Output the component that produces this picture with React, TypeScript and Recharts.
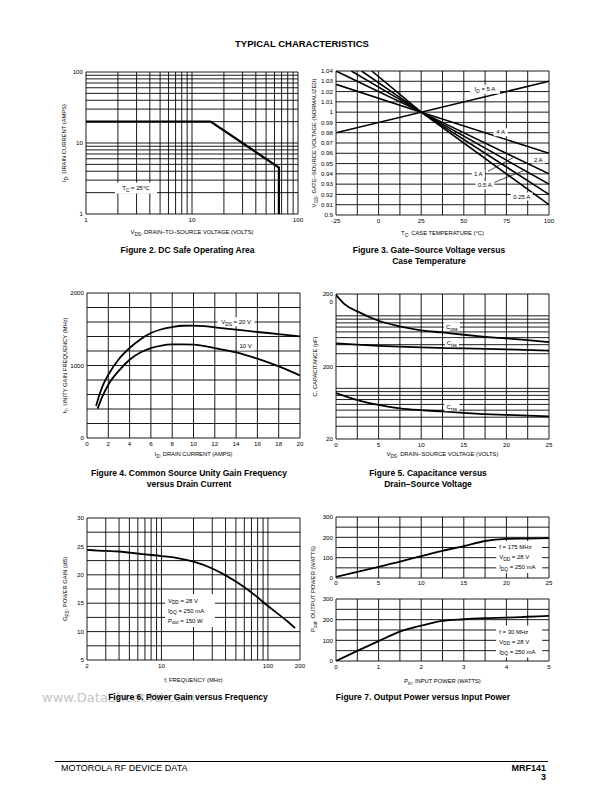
import React from 'react';
import { LineChart, Line, XAxis, YAxis, ReferenceLine, ReferenceDot } from 'recharts';

type Pt = [number, number];
type Part = [string, boolean];
type Rect = { x0: number; y0: number; x1: number; y1: number };

const FONT = '"Liberation Sans", Arial, Helvetica, sans-serif';

// ---------- Figure 2: DC safe operating area ----------
const fig2Ticks = [1, 10, 100];
const fig2Grid = [1, 2, 3, 4, 5, 6, 7, 8, 9, 10, 20, 30, 40, 50, 60, 70, 80, 90, 100];
const fig2Soa: Pt[] = [[1, 20], [15, 20], [66, 4.5], [66, 1]];

// ---------- Figure 3: gate-source voltage vs case temperature ----------
const fig3XTicks = [-25, 0, 25, 50, 75, 100];
const fig3XGrid = [-25, -12.5, 0, 12.5, 25, 37.5, 50, 62.5, 75, 87.5, 100];
const fig3YTicks = [0.9, 0.91, 0.92, 0.93, 0.94, 0.95, 0.96, 0.97, 0.98, 0.99, 1, 1.01, 1.02, 1.03, 1.04];
const fig3Id5A: Pt[] = [[-25, 0.98], [100, 1.03]];
const fig3Id4A: Pt[] = [[-25, 1.027], [25, 1], [100, 0.96]];
const fig3Id2A: Pt[] = [[-25, 1.04], [25, 1], [100, 0.94]];
const fig3Id1A: Pt[] = [[-16, 1.04], [25, 1], [100, 0.93]];
const fig3Id05A: Pt[] = [[-10, 1.04], [25, 1], [100, 0.92]];
const fig3Id025A: Pt[] = [[-4, 1.04], [25, 1], [100, 0.91]];

// ---------- Figure 4: unity gain frequency vs drain current ----------
const fig4XTicks = [0, 2, 4, 6, 8, 10, 12, 14, 16, 18, 20];
const fig4YTicks = [0, 1000, 2000];
const fig4YGrid = [0, 200, 400, 600, 800, 1000, 1200, 1400, 1600, 1800, 2000];
const fig4Vds20: Pt[] = [[0.85, 440], [1.2, 610], [1.5, 730], [2, 873], [3, 1090], [4, 1241], [5, 1360], [6, 1448], [7, 1500], [8, 1530], [9, 1548], [10, 1550], [11, 1542], [12, 1526], [14, 1494], [16, 1462], [18, 1434], [20, 1402]];
const fig4Vds10: Pt[] = [[1, 405], [1.5, 590], [2, 735], [3, 930], [4, 1080], [5, 1180], [6, 1241], [7, 1275], [8, 1290], [9, 1292], [10, 1287], [12, 1241], [14, 1182], [16, 1094], [18, 988], [20, 864]];

// ---------- Figure 5: capacitance vs drain-source voltage ----------
const fig5XTicks = [0, 5, 10, 15, 20, 25];
const fig5XGrid = [0, 2.5, 5, 7.5, 10, 12.5, 15, 17.5, 20, 22.5, 25];
const fig5YTicks = [20, 200, 2000];
const fig5YGrid = [20, 30, 40, 50, 60, 70, 80, 90, 100, 200, 300, 400, 500, 600, 700, 800, 900, 1000, 2000];
const fig5Coss: Pt[] = [[0, 1950], [1, 1450], [2.5, 1151], [5, 855], [7.5, 714], [10, 630], [12.5, 590], [15, 548], [17.5, 514], [20, 488], [22.5, 462], [25, 434]];
const fig5Ciss: Pt[] = [[0, 416], [5, 386], [10, 366], [15, 355], [20, 344], [25, 330]];
const fig5Crss: Pt[] = [[0, 86], [2.5, 69], [5, 59], [7.5, 53], [10, 50], [12.5, 48], [15, 46], [17.5, 44], [20, 43], [25, 41]];

// ---------- Figure 6: power gain vs frequency ----------
const fig6XTicks = [2, 10, 100, 200];
const fig6XGrid = [2, 3, 4, 5, 6, 7, 8, 9, 10, 20, 30, 40, 50, 60, 70, 80, 90, 100, 200];
const fig6YTicks = [5, 10, 15, 20, 25, 30];
const fig6YGrid = [5, 7.5, 10, 12.5, 15, 17.5, 20, 22.5, 25, 27.5, 30];
const fig6Gain: Pt[] = [[2, 24.4], [3, 24.2], [4, 24.1], [5, 23.9], [7, 23.6], [10, 23.3], [15, 22.85], [20, 22.3], [30, 21.1], [40, 19.9], [50, 18.8], [70, 16.9], [100, 14.5], [150, 11.9], [180, 10.6]];

// ---------- Figure 7: output power vs input power ----------
const fig7YTicks = [0, 100, 200, 300];
const fig7YGrid = [0, 50, 100, 150, 200, 250, 300];
const fig7aXTicks = [0, 5, 10, 15, 20, 25];
const fig7aXGrid = [0, 2.5, 5, 7.5, 10, 12.5, 15, 17.5, 20, 22.5, 25];
const fig7aPout: Pt[] = [[0, 5], [2.5, 30], [5, 55], [7.5, 80], [10, 108], [12.5, 134], [15, 157], [17.5, 182], [20, 192], [22.5, 194], [25, 196]];
const fig7bXTicks = [0, 1, 2, 3, 4, 5];
const fig7bXGrid = [0, 0.5, 1, 1.5, 2, 2.5, 3, 3.5, 4, 4.5, 5];
const fig7bPout: Pt[] = [[0, 0], [0.5, 49], [1, 96], [1.5, 142], [2, 171], [2.5, 194], [3, 202], [3.5, 207], [4, 210], [4.5, 214], [5, 218]];

// ---------- layout ----------
const rect2: Rect = { x0: 86, y0: 72, x1: 298, y1: 214 };
const rect3: Rect = { x0: 336, y0: 71, x1: 549, y1: 215 };
const rect4: Rect = { x0: 87, y0: 293, x1: 300, y1: 438 };
const rect5: Rect = { x0: 336, y0: 294, x1: 549, y1: 439 };
const rect6: Rect = { x0: 87, y0: 518, x1: 300, y1: 660 };
const rect7a: Rect = { x0: 336, y0: 517, x1: 549, y1: 578 };
const rect7b: Rect = { x0: 336, y0: 599, x1: 549, y1: 661 };

const ML = 26, YW = 20, MR = 12, MT = 10, XH = 12, MB = 14;

function frame(r: Rect, mb = MB) {
  return {
    pos: { position: 'absolute' as const, left: r.x0 - ML - YW, top: r.y0 - MT },
    width: ML + YW + (r.x1 - r.x0) + MR,
    height: MT + (r.y1 - r.y0) + XH + mb,
    margin: { top: MT, right: MR, bottom: mb, left: ML },
  };
}

const toData = (pts: Pt[]) => pts.map(([x, y]) => ({ x, y }));

function renderParts(parts: Part[], fs: number) {
  let shifted = false;
  return parts.map(([t, sub], i) => {
    let dy: number | undefined;
    if (sub && !shifted) { dy = fs * 0.3; shifted = true; }
    else if (!sub && shifted) { dy = -fs * 0.3; shifted = false; }
    return (
      <tspan key={i} dy={dy} fontSize={sub ? fs * 0.8 : fs}>{t}</tspan>
    );
  });
}

const TITLE_FS = 5.8;
const tickStyle = { fontSize: 6.2, fill: '#000', fontFamily: FONT };

const xTitle = (parts: Part[], off: number) => (props: any) => {
  const vb = props && props.viewBox;
  if (!vb) return null;
  const cx = vb.x + vb.width / 2;
  const cy = vb.y + off;
  return (
    <text x={cx} y={cy} dy="0.35em" textAnchor="middle" fontSize={TITLE_FS} fontFamily={FONT} fill="#000">
      {renderParts(parts, TITLE_FS)}
    </text>
  );
};

const yTitle = (parts: Part[], off: number, shift = 0) => (props: any) => {
  const vb = props && props.viewBox;
  if (!vb) return null;
  const cx = vb.x + vb.width - off;
  const cy = vb.y + vb.height / 2 + shift;
  return (
    <text x={cx} y={cy} dy="0.35em" textAnchor="middle" transform={`rotate(-90 ${cx} ${cy})`} fontSize={TITLE_FS} fontFamily={FONT} fill="#000">
      {renderParts(parts, TITLE_FS)}
    </text>
  );
};

type Anno = { lines: Part[][]; w: number; h: number; align?: 'middle' | 'start'; fs?: number; lh?: number };
function annoShape(a: Anno) {
  return (p: any) => {
    const cx = p.cx, cy = p.cy;
    const fs = a.fs ?? 6, lh = a.lh ?? 10;
    const n = a.lines.length;
    const start = a.align === 'start';
    const tx = start ? cx - a.w / 2 + 3 : cx;
    return (
      <g>
        <rect x={cx - a.w / 2} y={cy - a.h / 2} width={a.w} height={a.h} fill="#fff" />
        {a.lines.map((ln, i) => (
          <text key={i} x={tx} y={cy + (i - (n - 1) / 2) * lh} dy="0.35em" textAnchor={start ? 'start' : 'middle'} fontSize={fs} fontFamily={FONT} fill="#000">
            {renderParts(ln, fs)}
          </text>
        ))}
      </g>
    );
  };
}

function gridLines(xs: number[], ys: number[], key: string) {
  return [
    ...xs.map((v) => <ReferenceLine key={`${key}x${v}`} x={v} stroke="#000" strokeWidth={0.9} ifOverflow="visible" />),
    ...ys.map((v) => <ReferenceLine key={`${key}y${v}`} y={v} stroke="#000" strokeWidth={0.9} ifOverflow="visible" />),
  ];
}

const xCommon = {
  dataKey: 'x', type: 'number' as const, allowDataOverflow: true, axisLine: false, tickLine: false,
  tickSize: 0, tickMargin: 4, height: XH, interval: 0 as const, tick: tickStyle,
};
const yCommon = {
  type: 'number' as const, allowDataOverflow: true, axisLine: false, tickLine: false,
  tickSize: 0, tickMargin: 3, width: YW, interval: 0 as const, tick: tickStyle,
};
const lineCommon = { dataKey: 'y', stroke: '#000', dot: false, isAnimationActive: false, activeDot: false };

function Fig2() {
  const f = frame(rect2, 16);
  return (
    <div style={f.pos}>
      <LineChart width={f.width} height={f.height} margin={f.margin}>
        <XAxis {...xCommon} scale="log" domain={[1, 100]} ticks={fig2Ticks}
          label={xTitle([['V', false], ['DS', true], [', DRAIN\u2013TO\u2013SOURCE VOLTAGE (VOLTS)', false]], 18)} />
        <YAxis {...yCommon} scale="log" domain={[1, 100]} ticks={fig2Ticks}
          label={yTitle([['I', false], ['D', true], [', DRAIN CURRENT (AMPS)', false]], 22)} />
        {gridLines(fig2Grid, fig2Grid, 'g2')}
        <Line {...lineCommon} data={toData(fig2Soa)} type="linear" strokeWidth={2.2} />
        <ReferenceDot x={2.96} y={2.32} r={2} ifOverflow="visible"
          shape={annoShape({ lines: [[['T', false], ['C', true], [' = 25\u00B0C', false]]], w: 42, h: 11 })} />
      </LineChart>
    </div>
  );
}

function Fig3() {
  const f = frame(rect3, 16);
  const lw = 1.6;
  return (
    <div style={f.pos}>
      <LineChart width={f.width} height={f.height} margin={f.margin}>
        <XAxis {...xCommon} domain={[-25, 100]} ticks={fig3XTicks}
          label={xTitle([['T', false], ['C', true], [', CASE TEMPERATURE (\u00B0C)', false]], 18)} />
        <YAxis {...yCommon} domain={[0.9, 1.04]} ticks={fig3YTicks}
          tickFormatter={(v: number) => String(Math.round(v * 100) / 100)}
          label={yTitle([['V', false], ['GS', true], [', GATE\u2013SOURCE VOLTAGE (NORMALIZED)', false]], 22)} />
        {gridLines(fig3XGrid, fig3YTicks, 'g3')}
        <Line {...lineCommon} data={toData(fig3Id5A)} type="linear" strokeWidth={lw} />
        <Line {...lineCommon} data={toData(fig3Id4A)} type="linear" strokeWidth={lw} />
        <Line {...lineCommon} data={toData(fig3Id2A)} type="linear" strokeWidth={lw} />
        <Line {...lineCommon} data={toData(fig3Id1A)} type="linear" strokeWidth={lw} />
        <Line {...lineCommon} data={toData(fig3Id05A)} type="linear" strokeWidth={lw} />
        <Line {...lineCommon} data={toData(fig3Id025A)} type="linear" strokeWidth={lw} />
        <ReferenceLine segment={[{ x: 64.2, y: 0.9425 }, { x: 78.9, y: 0.9557 }]} stroke="#000" strokeWidth={0.7} ifOverflow="visible" />
        <ReferenceLine segment={[{ x: 65.4, y: 0.930 }, { x: 85.9, y: 0.9437 }]} stroke="#000" strokeWidth={0.7} ifOverflow="visible" />
        <ReferenceDot x={62.4} y={1.0222} r={2} ifOverflow="visible"
          shape={annoShape({ lines: [[['I', false], ['D', true], [' = 5 A', false]]], w: 30, h: 9 })} />
        <ReferenceDot x={71.6} y={0.9804} r={2} ifOverflow="visible" shape={annoShape({ lines: [[['4 A', false]]], w: 14, h: 8 })} />
        <ReferenceDot x={93.7} y={0.954} r={2} ifOverflow="visible" shape={annoShape({ lines: [[['2 A', false]]], w: 14, h: 8 })} />
        <ReferenceDot x={58.5} y={0.94} r={2} ifOverflow="visible" shape={annoShape({ lines: [[['1 A', false]]], w: 13, h: 8 })} />
        <ReferenceDot x={62.4} y={0.929} r={2} ifOverflow="visible" shape={annoShape({ lines: [[['0.5 A', false]]], w: 19, h: 8 })} />
        <ReferenceDot x={84} y={0.918} r={2} ifOverflow="visible" shape={annoShape({ lines: [[['0.25 A', false]]], w: 22, h: 8 })} />
      </LineChart>
    </div>
  );
}

function Fig4() {
  const f = frame(rect4);
  return (
    <div style={f.pos}>
      <LineChart width={f.width} height={f.height} margin={f.margin}>
        <XAxis {...xCommon} domain={[0, 20]} ticks={fig4XTicks}
          label={xTitle([['I', false], ['D', true], [', DRAIN CURRENT (AMPS)', false]], 16)} />
        <YAxis {...yCommon} domain={[0, 2000]} ticks={fig4YTicks}
          label={yTitle([['f', false], ['T', true], [', UNITY GAIN FREQUENCY (MHz)', false]], 22)} />
        {gridLines(fig4XTicks, fig4YGrid, 'g4')}
        <Line {...lineCommon} data={toData(fig4Vds20)} type="monotone" strokeWidth={1.8} />
        <Line {...lineCommon} data={toData(fig4Vds10)} type="monotone" strokeWidth={1.8} />
        <ReferenceDot x={14} y={1604} r={2} ifOverflow="visible"
          shape={annoShape({ lines: [[['V', false], ['DS', true], [' = 20 V', false]]], w: 37, h: 9 })} />
        <ReferenceDot x={14.9} y={1269} r={2} ifOverflow="visible"
          shape={annoShape({ lines: [[['10 V', false]]], w: 16, h: 9 })} />
      </LineChart>
    </div>
  );
}

const fig5YTick = (p: any) => {
  const { x, y, payload } = p;
  if (payload.value === 2000) {
    return (
      <text x={x} y={y} textAnchor="end" fontSize={6.2} fontFamily={FONT} fill="#000">
        <tspan x={x} dy="0.35em">200</tspan>
        <tspan x={x} dy="1.25em">0</tspan>
      </text>
    );
  }
  return (
    <text x={x} y={y} dy="0.35em" textAnchor="end" fontSize={6.2} fontFamily={FONT} fill="#000">{payload.value}</text>
  );
};

function Fig5() {
  const f = frame(rect5);
  return (
    <div style={f.pos}>
      <LineChart width={f.width} height={f.height} margin={f.margin}>
        <XAxis {...xCommon} domain={[0, 25]} ticks={fig5XTicks}
          label={xTitle([['V', false], ['DS', true], [', DRAIN\u2013SOURCE VOLTAGE (VOLTS)', false]], 15)} />
        <YAxis {...yCommon} scale="log" domain={[20, 2000]} ticks={fig5YTicks} tick={fig5YTick}
          label={yTitle([['C, CAPACITANCE (pF)', false]], 21)} />
        {gridLines(fig5XGrid, fig5YGrid, 'g5')}
        <Line {...lineCommon} data={toData(fig5Coss)} type="monotone" strokeWidth={1.8} />
        <Line {...lineCommon} data={toData(fig5Ciss)} type="monotone" strokeWidth={1.8} />
        <Line {...lineCommon} data={toData(fig5Crss)} type="monotone" strokeWidth={1.8} />
        <ReferenceDot x={13.6} y={708} r={2} ifOverflow="visible"
          shape={annoShape({ lines: [[['C', false], ['oss', true]]], w: 16, h: 9 })} />
        <ReferenceDot x={13.6} y={426} r={2} ifOverflow="visible"
          shape={annoShape({ lines: [[['C', false], ['iss', true]]], w: 14, h: 9 })} />
        <ReferenceDot x={13.6} y={55.8} r={2} ifOverflow="visible"
          shape={annoShape({ lines: [[['C', false], ['rss', true]]], w: 15, h: 9 })} />
      </LineChart>
    </div>
  );
}

function Fig6() {
  const f = frame(rect6, 18);
  return (
    <div style={f.pos}>
      <LineChart width={f.width} height={f.height} margin={f.margin}>
        <XAxis {...xCommon} scale="log" domain={[2, 200]} ticks={fig6XTicks}
          label={xTitle([['f, FREQUENCY (MHz)', false]], 20)} />
        <YAxis {...yCommon} domain={[5, 30]} ticks={fig6YTicks}
          label={yTitle([['G', false], ['PS', true], [', POWER GAIN (dB)', false]], 22)} />
        {gridLines(fig6XGrid, fig6YGrid, 'g6')}
        <Line {...lineCommon} data={toData(fig6Gain)} type="monotone" strokeWidth={1.8} />
        <ReferenceDot x={18.5} y={13.7} r={2} ifOverflow="visible"
          shape={annoShape({
            align: 'start', w: 50, h: 33, lh: 10,
            lines: [
              [['V', false], ['DD', true], [' = 28 V', false]],
              [['I', false], ['DQ', true], [' = 250 mA', false]],
              [['P', false], ['out', true], [' = 150 W', false]],
            ],
          })} />
      </LineChart>
    </div>
  );
}

function Fig7a() {
  const f = frame(rect7a, 70);
  return (
    <div style={f.pos}>
      <LineChart width={f.width} height={f.height} margin={f.margin}>
        <XAxis {...xCommon} tickMargin={3} domain={[0, 25]} ticks={fig7aXTicks} />
        <YAxis {...yCommon} domain={[0, 300]} ticks={fig7YTicks}
          label={yTitle([['P', false], ['out', true], [', OUTPUT POWER (WATTS)', false]], 23, 41.5)} />
        {gridLines(fig7aXGrid, fig7YGrid, 'g7a')}
        <Line {...lineCommon} data={toData(fig7aPout)} type="monotone" strokeWidth={1.8} />
        <ReferenceDot x={21.5} y={103} r={2} ifOverflow="visible"
          shape={annoShape({
            align: 'start', w: 46, h: 32, lh: 10,
            lines: [
              [['f = 175 MHz', false]],
              [['V', false], ['DD', true], [' = 28 V', false]],
              [['I', false], ['DQ', true], [' = 250 mA', false]],
            ],
          })} />
      </LineChart>
    </div>
  );
}

function Fig7b() {
  const f = frame(rect7b, 18);
  return (
    <div style={f.pos}>
      <LineChart width={f.width} height={f.height} margin={f.margin}>
        <XAxis {...xCommon} domain={[0, 5]} ticks={fig7bXTicks}
          label={xTitle([['P', false], ['in', true], [', INPUT POWER (WATTS)', false]], 20)} />
        <YAxis {...yCommon} domain={[0, 300]} ticks={fig7YTicks} />
        {gridLines(fig7bXGrid, fig7YGrid, 'g7b')}
        <Line {...lineCommon} data={toData(fig7bPout)} type="monotone" strokeWidth={1.8} />
        <ReferenceDot x={4.3} y={94.4} r={2} ifOverflow="visible"
          shape={annoShape({
            align: 'start', w: 46, h: 32, lh: 10,
            lines: [
              [['f = 30 MHz', false]],
              [['V', false], ['DD', true], [' = 28 V', false]],
              [['I', false], ['DQ', true], [' = 250 mA', false]],
            ],
          })} />
      </LineChart>
    </div>
  );
}

function CText({ cx, cy, size, bold, children, color = '#000', family = FONT }: any) {
  const lh = size * 1.2;
  return (
    <div style={{
      position: 'absolute', left: cx - 250, width: 500, top: cy - lh / 2, height: lh, lineHeight: `${lh}px`,
      textAlign: 'center', fontSize: size, fontWeight: bold ? 'bold' : 'normal', fontFamily: family, color, whiteSpace: 'nowrap',
    }}>{children}</div>
  );
}

function LText({ x, cy, size, bold, children, color = '#000', family = FONT, right = false }: any) {
  const lh = size * 1.2;
  const base: any = {
    position: 'absolute', top: cy - lh / 2, height: lh, lineHeight: `${lh}px`,
    fontSize: size, fontWeight: bold ? 'bold' : 'normal', fontFamily: family, color, whiteSpace: 'nowrap',
  };
  if (right) { base.left = x - 300; base.width = 300; base.textAlign = 'right'; }
  else { base.left = x; }
  return <div style={base}>{children}</div>;
}

export default function App() {
  return (
    <div style={{ position: 'absolute', left: 0, top: 0, width: 612, height: 792, background: '#fff', overflow: 'hidden' }}>
      <CText cx={302} cy={44} size={9.5} bold>TYPICAL CHARACTERISTICS</CText>

      <Fig2 />
      <Fig3 />
      <CText cx={187.5} cy={250} size={8.5} bold>Figure 2. DC Safe Operating Area</CText>
      <CText cx={429} cy={250} size={8.5} bold>Figure 3. Gate–Source Voltage versus</CText>
      <CText cx={429} cy={261} size={8.5} bold>Case Temperature</CText>

      <Fig4 />
      <Fig5 />
      <CText cx={189} cy={473} size={8.5} bold>Figure 4. Common Source Unity Gain Frequency</CText>
      <CText cx={189} cy={484} size={8.5} bold>versus Drain Current</CText>
      <CText cx={428} cy={473} size={8.5} bold>Figure 5. Capacitance versus</CText>
      <CText cx={428} cy={484} size={8.5} bold>Drain–Source Voltage</CText>

      <Fig6 />
      <Fig7b />
      <Fig7a />
      <LText x={42} cy={698} size={13} color="#c4c4c4" family='"DejaVu Sans", Verdana, sans-serif'>www.DataSheet4U.com</LText>
      <CText cx={188} cy={697} size={8.5} bold>Figure 6. Power Gain versus Frequency</CText>
      <CText cx={423} cy={697} size={8.5} bold>Figure 7. Output Power versus Input Power</CText>

      <div style={{ position: 'absolute', left: 55, top: 760.5, width: 493, height: 1, background: '#000' }} />
      <LText x={61} cy={768} size={9}>MOTOROLA RF DEVICE DATA</LText>
      <LText x={546} cy={768} size={9} bold right>MRF141</LText>
      <LText x={546} cy={777.5} size={9} bold right>3</LText>
    </div>
  );
}
